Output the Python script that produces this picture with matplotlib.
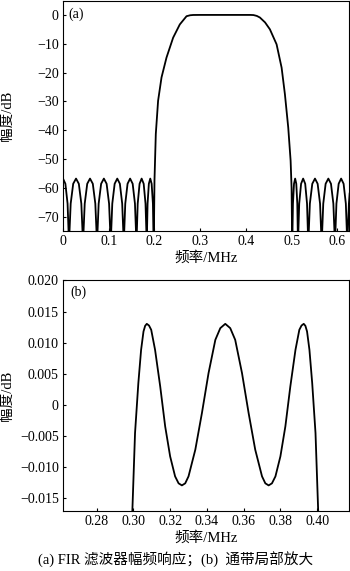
import matplotlib
matplotlib.use("Agg")
import matplotlib.pyplot as plt

plt.rcParams['font.family'] = ['Liberation Serif', 'Noto Sans CJK SC']
plt.rcParams['axes.unicode_minus'] = True

# (a) full response (dB); nulls go below the axis
f_stop_lo = [0.0, 0.0052, 0.0100, 0.0121, 0.0131,
             0.0143, 0.0168, 0.0223, 0.0285, 0.0346, 0.0401, 0.0426, 0.0438,
             0.0450, 0.0475, 0.0530, 0.0591, 0.0652, 0.0707, 0.0732, 0.0744,
             0.0756, 0.0780, 0.0834, 0.0894, 0.0954, 0.1008, 0.1032, 0.1044,
             0.1055, 0.1078, 0.1130, 0.1187, 0.1244, 0.1295, 0.1318, 0.1329,
             0.1340, 0.1362, 0.1412, 0.1468, 0.1524, 0.1574, 0.1596, 0.1607,
             0.1616, 0.1634, 0.1675, 0.1720, 0.1765, 0.1805, 0.1823, 0.1832,
             0.1838, 0.1850, 0.1878, 0.1909, 0.1939, 0.1967, 0.1977, 0.1983]
db_stop_lo = [-56.8, -58.6, -65.5, -74.8, -95,
              -74.8, -65.5, -58.6, -56.8, -58.6, -65.5, -74.8, -95,
              -74.8, -65.5, -58.6, -56.8, -58.6, -65.5, -74.8, -95,
              -74.8, -65.5, -58.6, -56.8, -58.6, -65.5, -74.8, -95,
              -74.8, -65.5, -58.6, -56.8, -58.6, -65.5, -74.8, -95,
              -74.8, -65.5, -58.6, -56.8, -58.6, -65.5, -74.8, -95,
              -74.8, -65.5, -58.6, -56.8, -58.6, -65.5, -74.8, -95,
              -74.8, -65.5, -58.6, -56.8, -58.6, -65.5, -74.8, -95]

f_pass = [0.1990, 0.2001, 0.2030, 0.2080, 0.2155, 0.2264, 0.2409, 0.2555,
          0.2702, 0.2780, 0.2847, 0.3000, 0.3500, 0.4000, 0.4100, 0.4167,
          0.4240, 0.4307, 0.4420, 0.4526, 0.4672, 0.4782, 0.4854, 0.4927,
          0.4979, 0.5000, 0.5010]
db_pass = [-74.0, -57.5, -41.3, -29.8, -21.7, -14.8, -7.9, -3.3,
           -0.45, -0.12, -0.02, 0.0, 0.0, 0.0, 0.0, -0.05,
           -0.35, -0.9, -2.6, -5.0, -10.2, -18.3, -27.5, -39.1,
           -50.6, -60.0, -75.0]

f_stop_hi = [0.5015,
             0.5020, 0.5030, 0.5053, 0.5078, 0.5103, 0.5125, 0.5135, 0.5140,
             0.5149, 0.5167, 0.5208, 0.5253, 0.5298, 0.5338, 0.5356, 0.5365,
             0.5377, 0.5400, 0.5453, 0.5512, 0.5570, 0.5623, 0.5646, 0.5658,
             0.5670, 0.5693, 0.5745, 0.5804, 0.5862, 0.5914, 0.5937, 0.5949,
             0.5960, 0.5981, 0.6030, 0.6084, 0.6138, 0.6187, 0.6208, 0.6219,
             0.6231, 0.6254, 0.6270]
db_stop_hi = [-95,
              -74.8, -65.5, -58.6, -56.8, -58.6, -65.5, -74.8, -95,
              -74.8, -65.5, -58.6, -56.8, -58.6, -65.5, -74.8, -95,
              -74.8, -65.5, -58.6, -56.8, -58.6, -65.5, -74.8, -95,
              -74.8, -65.5, -58.6, -56.8, -58.6, -65.5, -74.8, -95,
              -74.8, -65.5, -58.6, -56.8, -58.6, -65.5, -74.8, -95,
              -74.8, -65.5, -62.0]

# (b) passband ripple (dB)
f_b = [0.29945, 0.3009, 0.3027, 0.3042, 0.3055, 0.3064, 0.3073, 0.3085,
       0.3097, 0.3118, 0.3146, 0.3173, 0.3200, 0.3227, 0.3246, 0.3264,
       0.3282, 0.3300, 0.3337, 0.3373, 0.3409, 0.3446, 0.3473, 0.3500,
       0.3527, 0.3554, 0.3591, 0.3627, 0.3663, 0.3700, 0.3718, 0.3736,
       0.3754, 0.3773, 0.3800, 0.3827, 0.3854, 0.3882, 0.3903, 0.3915,
       0.3927, 0.3936, 0.3945, 0.3958, 0.3973, 0.3991, 0.40055]
db_b = [-0.0170, -0.00455, 0.00349, 0.00884, 0.01179, 0.01270, 0.01302, 0.01275,
        0.01206, 0.00884, 0.00294, -0.00349, -0.00831, -0.01153, -0.01265, -0.01298,
        -0.01265, -0.01153, -0.00723, -0.00133, 0.0051, 0.01045, 0.01233, 0.01302,
        0.01233, 0.01045, 0.0051, -0.00133, -0.00723, -0.01153, -0.01265, -0.01298,
        -0.01265, -0.01153, -0.00831, -0.00349, 0.00294, 0.00884, 0.01206, 0.01275,
        0.01302, 0.01270, 0.01179, 0.00884, 0.00349, -0.00455, -0.0170]

xticks_a = [0, 0.1, 0.2, 0.3, 0.4, 0.5, 0.6]
xlabels_a = ['0', '0.1', '0.2', '0.3', '0.4', '0.5', '0.6']
yticks_a = [0, -10, -20, -30, -40, -50, -60, -70]
ylabels_a = ['0', '\u221210', '\u221220', '\u221230', '\u221240', '\u221250', '\u221260', '\u221270']

xticks_b = [0.28, 0.30, 0.32, 0.34, 0.36, 0.38, 0.40]
xlabels_b = ['0.28', '0.30', '0.32', '0.34', '0.36', '0.38', '0.40']
yticks_b = [0.020, 0.015, 0.010, 0.005, 0, -0.005, -0.010, -0.015]
ylabels_b = ['0.020', '0.015', '0.010', '0.005', '0', '\u22120.005', '\u22120.010', '\u22120.015']

fig = plt.figure(figsize=(3.5, 5.71), dpi=100)
ax1 = fig.add_axes([0.180, 0.5954, 0.817, 0.4037])
ax2 = fig.add_axes([0.180, 0.1051, 0.817, 0.4037])

f_a = f_stop_lo + f_pass + f_stop_hi
db_a = db_stop_lo + db_pass + db_stop_hi
ax1.plot(f_a, db_a, color='black', lw=1.3)
ax1.set_xlim(0, 0.6255)
ax1.set_ylim(-75, 5)
ax1.set_xticks(xticks_a)
ax1.set_xticklabels(xlabels_a)
ax1.set_yticks(yticks_a)
ax1.set_yticklabels(ylabels_a)
ax1.set_xlabel('频率/MHz', fontsize=10.5, labelpad=2)
ax1.set_ylabel('幅度/dB', fontsize=10.5)
ax1.text(0.019, 0.942, '(a)', transform=ax1.transAxes, fontsize=10, ha='left', va='center')

ax2.plot(f_b, db_b, color='black', lw=1.3)
ax2.set_xlim(0.2617, 0.4173)
ax2.set_ylim(-0.0171, 0.020)
ax2.set_xticks(xticks_b)
ax2.set_xticklabels(xlabels_b)
ax2.set_yticks(yticks_b)
ax2.set_yticklabels(ylabels_b)
ax2.set_xlabel('频率/MHz', fontsize=10.5, labelpad=2)
ax2.set_ylabel('幅度/dB', fontsize=10.5)
ax2.text(0.025, 0.947, '(b)', transform=ax2.transAxes, fontsize=10, ha='left', va='center')

for ax in (ax1, ax2):
    ax.tick_params(direction='in', length=2.5, width=0.8, labelsize=10, pad=3)
    ax.yaxis.set_label_coords(-0.172, 0.5)
    for s in ax.spines.values():
        s.set_linewidth(0.8)

fig.text(0.503, 0.019, '(a) FIR 滤波器幅频响应；(b)  通带局部放大', fontsize=10.5,
         ha='center', va='center')

fig.savefig('out.png', dpi=100)
